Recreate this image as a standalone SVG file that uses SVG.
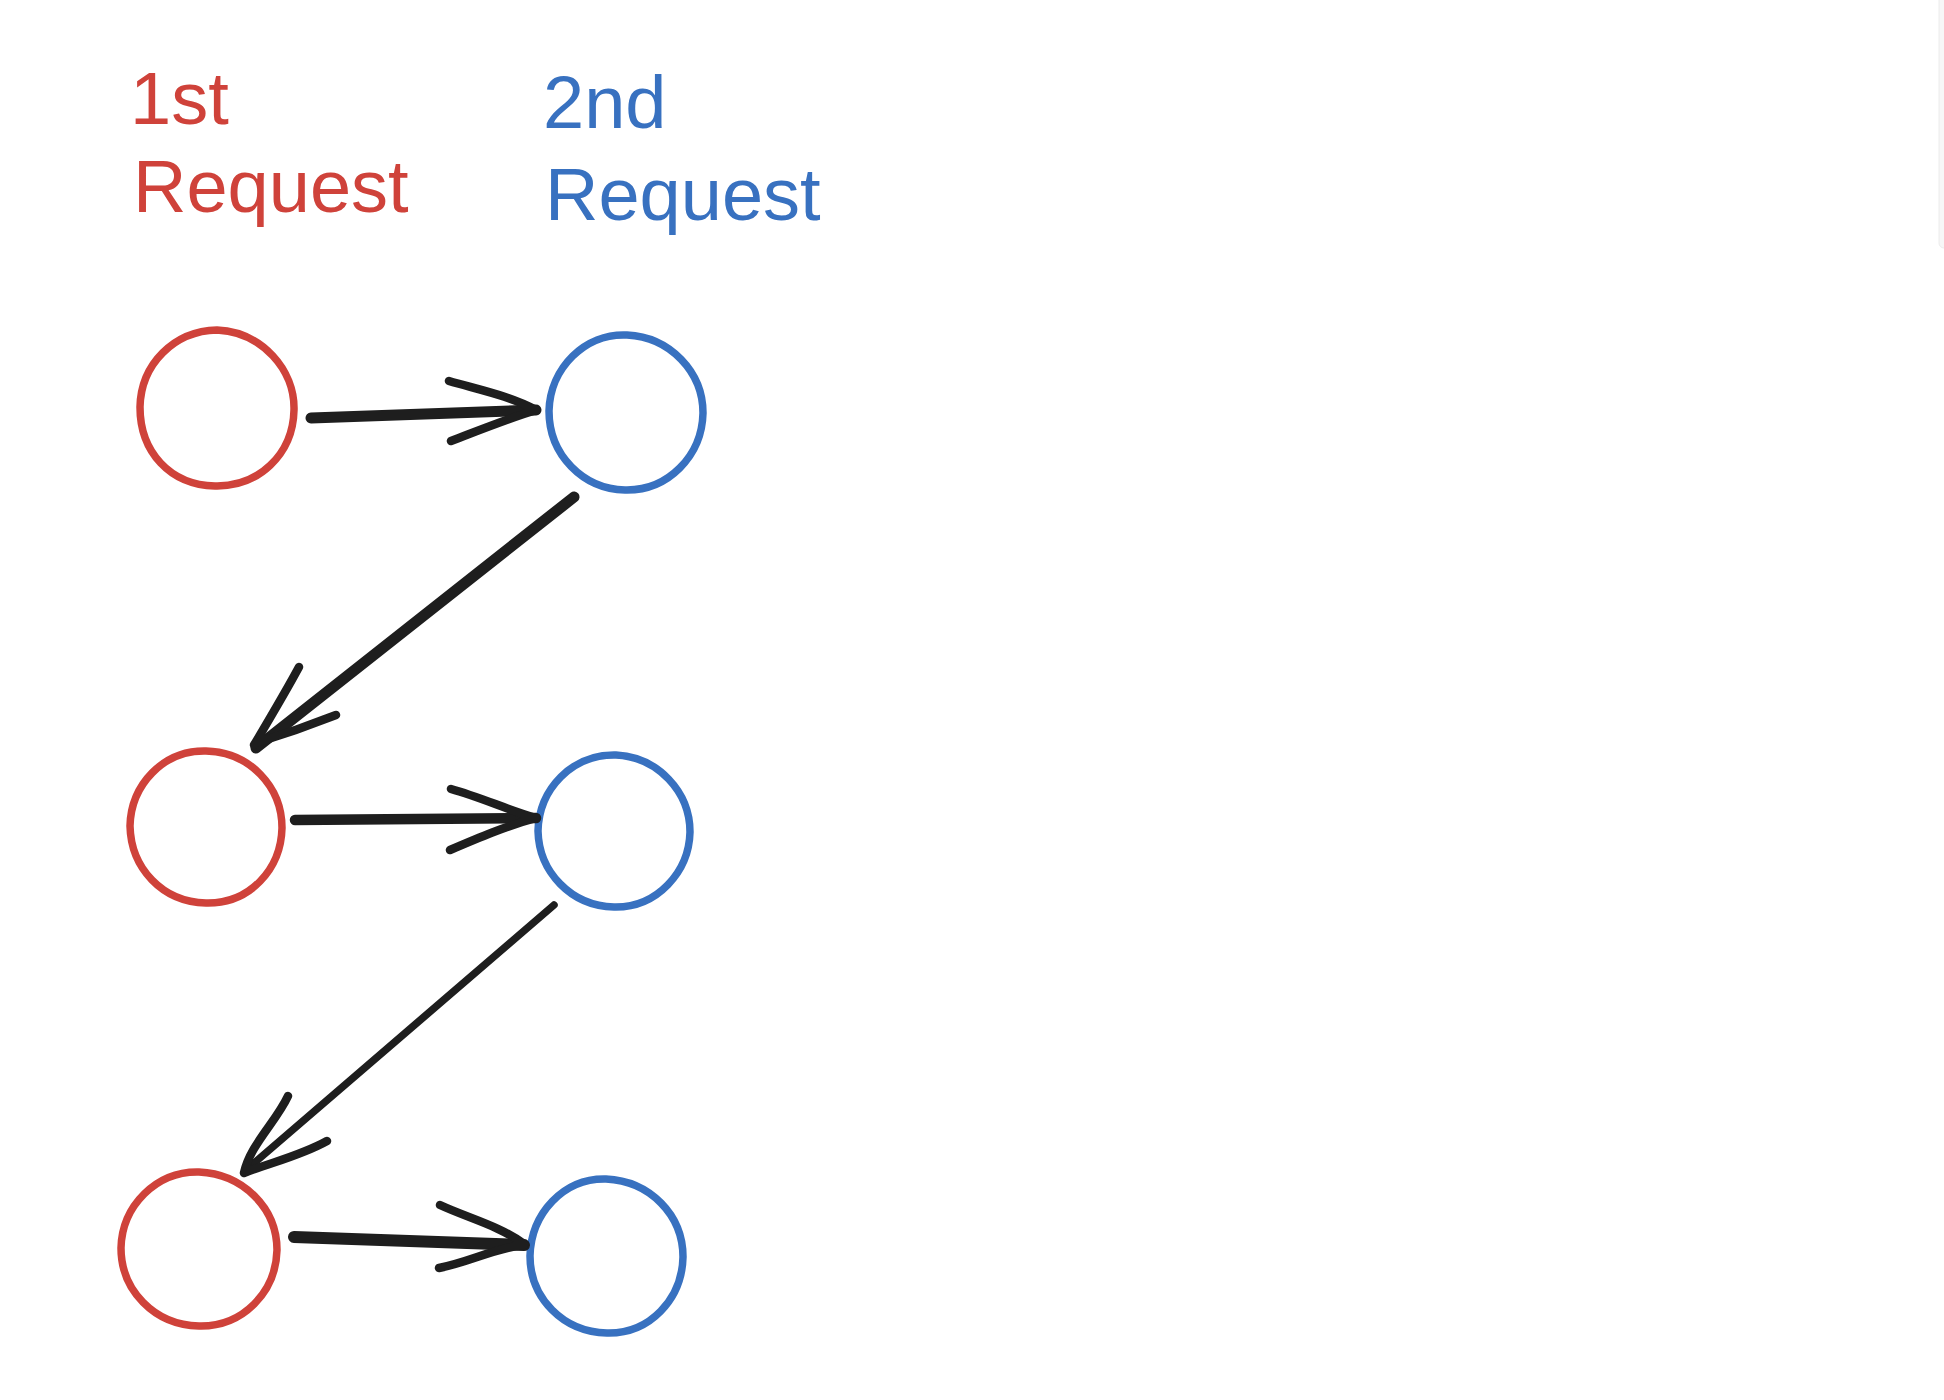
<svg xmlns="http://www.w3.org/2000/svg" width="1944" height="1400" viewBox="0 0 1944 1400">
<style>
.bg{fill:#ffffff}
.red{fill:none;stroke:#cf423a;stroke-width:7.5}
.blue{fill:none;stroke:#3871c0;stroke-width:7.5}
.lblr{fill:#cf423a;font-family:"Liberation Sans",Arial,sans-serif;font-size:74px}
.lblb{fill:#3871c0;font-family:"Liberation Sans",Arial,sans-serif;font-size:74px}
.ln{fill:none;stroke:#1e1e1e;stroke-linecap:round;stroke-linejoin:round}
.barb{fill:none;stroke:#1e1e1e;stroke-width:8.5;stroke-linecap:round;stroke-linejoin:round}
</style>
<rect class="bg" x="0" y="0" width="1944" height="1400"/>
<rect x="1939" y="-10" width="12" height="258" rx="5" fill="#f7f7f7" stroke="#ececec" stroke-width="1"/>

<g id="labels">
  <g id="label-1st">
    <text class="lblr" x="130" y="124">1st</text>
    <text class="lblr" x="133" y="212">Request</text>
  </g>
  <g id="label-2nd">
    <text class="lblb" x="543" y="128">2nd</text>
    <text class="lblb" x="545" y="220">Request</text>
  </g>
</g>

<g id="node-r1"><path class="red" d="M217,330 C262,332 295,370 294,410 C293,455 258,487 215,486 C170,485 140,452 140,407 C141,364 174,331 217,330 Z"/></g>
<g id="node-b1"><path class="blue" d="M627,335 C670,337 703,372 703,413 C702,456 668,491 625,490 C583,489 549,455 549,411 C550,368 585,333 627,335 Z"/></g>
<g id="node-r2"><path class="red" d="M206,751 C250,752 282,787 282,828 C281,869 250,904 206,903 C162,902 131,868 130,826 C131,785 163,750 206,751 Z"/></g>
<g id="node-b2"><path class="blue" d="M616,755 C658,757 690,792 690,832 C689,872 657,908 614,907 C571,906 539,872 538,831 C539,789 572,754 616,755 Z"/></g>
<g id="node-r3"><path class="red" d="M199,1172 C243,1174 277,1208 277,1250 C276,1292 243,1327 199,1326 C154,1325 121,1290 121,1248 C122,1206 156,1171 199,1172 Z"/></g>
<g id="node-b3"><path class="blue" d="M606,1179 C650,1181 683,1215 683,1257 C682,1299 650,1334 607,1333 C563,1332 530,1298 530,1256 C531,1214 563,1178 606,1179 Z"/></g>

<g id="connectors">
  <path class="ln" stroke-width="11" d="M311,418 L536,410"/>
  <path class="barb" d="M449,381 C480,390 510,396 536,410 M451,441 C480,430 510,418 536,410"/>

  <path class="ln" stroke-width="11" d="M574,497 L256,748"/>
  <path class="barb" d="M299,667 C285,693 270,718 254,745 M336,715 C308,726 282,735 256,743"/>

  <path class="ln" stroke-width="10.5" d="M295,820 L536,818"/>
  <path class="barb" d="M451,789 C480,797 508,810 536,818 M450,850 C478,838 506,826 536,818"/>

  <path class="ln" stroke-width="7.5" d="M554,905 L246,1170"/>
  <path class="barb" d="M288,1096 C276,1122 250,1145 244,1173 M327,1141 C300,1156 272,1162 244,1173"/>

  <path class="ln" stroke-width="12" d="M294,1237 L524,1245"/>
  <path class="barb" d="M440,1205 C468,1218 500,1226 524,1244 M439,1268 C470,1262 495,1248 524,1245"/>
</g>
</svg>
